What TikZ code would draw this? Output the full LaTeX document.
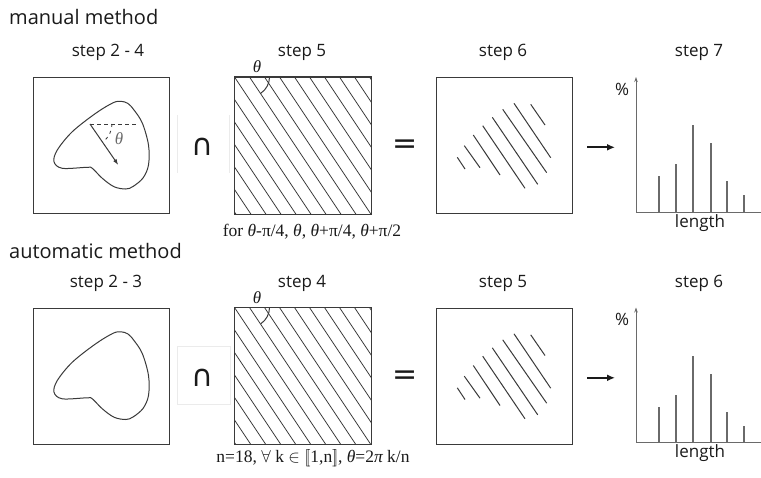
\documentclass[tikz,border=0pt]{standalone}
\usepackage{fontspec}
\setmainfont{Open Sans}
\newfontfamily\capfont{Liberation Serif}
\newfontfamily\symfont{DejaVu Sans}
\usetikzlibrary{arrows.meta}
\definecolor{boxgray}{HTML}{3A3A3A}
\definecolor{axgray}{HTML}{6A6A6A}
\definecolor{txt}{HTML}{1A1A1A}
\tikzset{
  box/.style={draw=boxgray, line width=1.1pt, minimum size=136pt, inner sep=0pt, anchor=north west},
  ttl/.style={font=\fontsize{17}{20}\selectfont, text=txt, inner sep=0pt},
  head/.style={font=\fontsize{20}{24}\selectfont, text=txt, inner sep=0pt, anchor=west},
  capt/.style={font=\capfont\fontsize{17.5}{20}\selectfont, text=txt, inner sep=0pt},
  blob/.style={draw=boxgray, line width=1pt},
  hatch/.style={draw=boxgray, line width=0.8pt},
  seg/.style={draw=boxgray, line width=1pt},
  bar/.style={draw=axgray, line width=1.2pt},
  axis/.style={draw=axgray, line width=1pt},
  faint/.style={draw=gray!16, line width=0.8pt},
  opsym/.style={font=\symfont\fontsize{30}{30}\selectfont, text=txt, inner sep=0pt},
}
\newcommand\rowbody[1]{%
  \node[box] (#1A) at (33,77) {};
  \node[box, draw=none] (#1B) at (234.5,77) {};
  \node[box] (#1C) at (436,77) {};
  % blob
  \draw[blob] plot[smooth cycle, tension=0.55] coordinates {
    (121,101.3) (128,103.5) (134,110) (142.3,123) (148.5,145) (148.5,165) (143,178) (133,186.5) (125.7,189)
    (114,186.7) (102.3,178.3) (92.3,168.3) (87.3,167.3) (62.3,168.3) (54,161.7)
    (57.3,150) (72.3,131.7) (95.7,113.3) (113,102.8)};
  % hatch
  \begin{scope}
    \clip (#1B.north west) rectangle (#1B.south east);
    \foreach \k in {-7,...,9} \draw[hatch] ({234.5+15*\k},77) -- ++(96,144);
  \end{scope}
  \draw[boxgray, line width=1.1pt] (#1B.north west) rectangle (#1B.south east);
  \draw[boxgray, line width=1pt] (269.5,77) arc[start angle=0, end angle=56.3, radius=19.5];
  \node[font=\capfont\itshape\fontsize{17}{20}\selectfont, text=txt, inner sep=0pt] (#1th) at (257,67) {θ};
  % step 6 segments
  \draw[seg] (457.3,157.3) -- (465,169);
  \draw[seg] (464.3,145.7) -- (480,167.7);
  \draw[seg] (473.3,135) -- (500,175);
  \draw[seg] (482.7,125.7) -- (525,188.3);
  \draw[seg] (492.3,117.3) -- (537.7,184.3);
  \draw[seg] (502.7,109.3) -- (546.7,172.7);
  \draw[seg] (514,103.3) -- (550.7,157.7);
  \draw[seg] (530.7,104.3) -- (545,125);
  % operators
  \node[opsym] (#1cap) at (202.5,147) {∩};
  \node[opsym] (#1eq) at (405,147) {=};
  % arrow
  \coordinate (#1as) at (587,147.3);
  \coordinate (#1ae) at (615,147.3);
  \draw[line width=2pt, -{Latex[length=8pt,width=7pt]}, txt] (#1as) -- (#1ae);
  % chart
  \coordinate (#1o) at (636,212);
  \coordinate (#1yt) at (636,77);
  \coordinate (#1xe) at (761,212);
  \draw[axis, -{Stealth[length=5pt,width=3.5pt]}] (#1o) -- (#1yt);
  \draw[axis] (#1o) -- (#1xe);
  \foreach \xx/\hh in {659/36, 676/48, 693/87, 711/69, 727/31, 744/17}
    \draw[bar] (\xx,212) -- ++(0,-\hh);
  \node[ttl, font=\fontsize{17}{18}\selectfont] (#1pc) at (622,89) {\%};
  \node[ttl] (#1len) at (700,223) {length};
}
\begin{document}
\begin{tikzpicture}[x=1pt,y=-1pt]
\useasboundingbox (0,0) rectangle (761,477);
\fill[white] (0,0) rectangle (761,477);

% top row
\node[head] (mm) at (9,17) {manual method};
\node[ttl] (t1) at (108,52) {step 2 - 4};
\node[ttl] (t2) at (302,52) {step 5};
\node[ttl] (t3) at (503,52) {step 6};
\node[ttl] (t4) at (699,52) {step 7};
\draw[faint] (177,115) -- (177,173);
\draw[faint] (229,115) -- (229,173);
\rowbody{u}
% blob annotation
\coordinate (ac) at (90,124);
\coordinate (ad) at (136,124);
\coordinate (ae) at (118.3,165);
\draw[boxgray, line width=0.8pt, dash pattern=on 4pt off 3pt] (ac) -- (ad);
\draw[boxgray, line width=1pt, -{Latex[length=6pt,width=4pt]}] (ac) -- (ae);
\draw[boxgray, line width=0.8pt, dash pattern=on 3pt off 4pt] (112,124) arc[start angle=0, end angle=55.7, radius=22];
\node[font=\capfont\itshape\fontsize{17}{20}\selectfont, text=axgray, inner sep=0pt] (bth) at (119,139) {θ};
\node[capt] (c1) at (312,232) {for {\itshape θ}-π/4, {\itshape θ}, {\itshape θ}+π/4, {\itshape θ}+π/2};

% bottom row
\node[head] (am) at (9,251) {automatic method};
\node[ttl] (s1) at (106,283) {step 2 - 3};
\node[ttl] (s2) at (302,283) {step 4};
\node[ttl] (s3) at (503,283) {step 5};
\node[ttl] (s4) at (699,283) {step 6};
\draw[faint] (177,346) rectangle (230,404);
\begin{scope}[shift={(0,230.5)}]
\rowbody{l}
\end{scope}
\node[capt] (c2) at (313,458) {n=18, $\forall$ k $\in[\![$1,n$]\!]$, {\itshape θ}=2{\itshape π} k/n};
\end{tikzpicture}
\end{document}
